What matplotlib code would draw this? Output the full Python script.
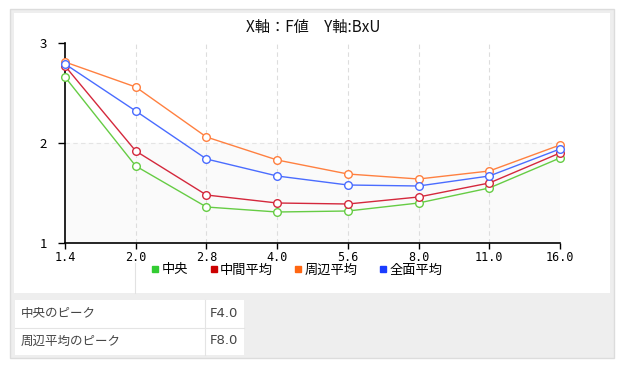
import numpy as np
import matplotlib
matplotlib.use("Agg")
import matplotlib.pyplot as plt
from matplotlib.patches import Rectangle
from matplotlib.lines import Line2D

plt.rcParams["font.family"] = ["Noto Sans CJK JP", "DejaVu Sans"]

# --- data ---
f_values = ["1.4", "2.0", "2.8", "4.0", "5.6", "8.0", "11.0", "16.0"]
center = [2.66, 1.77, 1.36, 1.31, 1.32, 1.40, 1.55, 1.85]
middle_avg = [2.77, 1.92, 1.48, 1.40, 1.39, 1.46, 1.60, 1.90]
edge_avg = [2.81, 2.56, 2.06, 1.83, 1.69, 1.64, 1.72, 1.98]
total_avg = [2.79, 2.32, 1.84, 1.67, 1.58, 1.57, 1.67, 1.94]

series_names = ["中央", "中間平均", "周辺平均", "全面平均"]
line_colors = ["#66cc44", "#d4283c", "#ff8040", "#4a6cff"]
legend_colors = ["#33cc33", "#cc0000", "#ff6611", "#1a3cff"]

peak_labels = ["中央のピーク", "周辺平均のピーク"]
peak_values = ["F4.0", "F8.0"]

W, H = 627, 372
fig = plt.figure(figsize=(W / 100, H / 100), dpi=100)
fig.patch.set_facecolor("white")


def px_rect(x0, y0, x1, y1, **kw):
    # rectangle in pixel coordinates (top-left origin)
    r = Rectangle((x0 / W, 1 - y1 / H), (x1 - x0) / W, (y1 - y0) / H,
                  transform=fig.transFigure, **kw)
    fig.patches.append(r)
    return r


# frame + panels
px_rect(10, 9, 614, 358, facecolor="#eeeeee", edgecolor="#dcdcdc", linewidth=1, zorder=0)
px_rect(14, 13, 610, 293, facecolor="white", edgecolor="none", zorder=0)
fig.lines.append(Line2D([135 / W, 135 / W], [1 - 263 / H, 1 - 293 / H],
                        transform=fig.transFigure, color="#e2e2e2", linewidth=0.8))

# table
px_rect(15, 300, 244, 355, facecolor="white", edgecolor="none", zorder=1)
fig.lines.append(Line2D([15 / W, 244 / W], [1 - 327.5 / H] * 2,
                        transform=fig.transFigure, color="#e4e4e4", linewidth=0.8))
fig.lines.append(Line2D([204.5 / W] * 2, [1 - 300 / H, 1 - 355 / H],
                        transform=fig.transFigure, color="#e4e4e4", linewidth=0.8))
for i, (lab, val) in enumerate(zip(peak_labels, peak_values)):
    yc = 313.5 + i * 27.5
    fig.text(21 / W, 1 - yc / H, lab, fontsize=9, color="#444444", va="center", ha="left")
    fig.text(210 / W, 1 - yc / H, val, fontsize=9.5, color="#444444", va="center",
             ha="left", family="DejaVu Sans")

# --- plot ---
ax = fig.add_axes([65 / W, 1 - 243 / H, (560 - 65) / W, (243 - 43) / H])
ax.set_zorder(5)
ax.set_facecolor("none")
x = np.arange(len(f_values))
ax.set_xlim(0, len(f_values) - 1)
ax.set_ylim(1, 3)

ax.axhspan(1, 2, color="#fafafa", zorder=0)
for xi in x[1:-1]:
    ax.axvline(xi, color="#dddddd", linestyle=(0, (4, 3)), linewidth=0.8, zorder=1)
ax.axhline(2, color="#e4e4e4", linestyle=(0, (4, 3)), linewidth=0.8, zorder=1)

for vals, c in zip([center, middle_avg, edge_avg, total_avg], line_colors):
    ax.plot(x, vals, color=c, linewidth=1.0, marker="o", markersize=5.5,
            markerfacecolor="white", markeredgecolor=c, markeredgewidth=1.0,
            zorder=3, clip_on=False)

for s in ["top", "right"]:
    ax.spines[s].set_visible(False)
for s in ["left", "bottom"]:
    ax.spines[s].set_linewidth(1.2)
    ax.spines[s].set_color("black")

ax.set_yticks([1, 2, 3])
ax.set_yticklabels(["1", "2", "3"], fontsize=9.5)
ax.set_xticks(x)
ax.set_xticklabels(f_values, fontsize=8.5, family="DejaVu Sans Mono")
ax.tick_params(axis="y", direction="out", length=5, width=1, pad=8)
ax.tick_params(axis="x", direction="out", length=4, width=1, pad=2)

fig.text(313 / W, 1 - 27 / H, "X軸：F値　Y軸:BxU", fontsize=11,
         ha="center", va="center", color="#111111")

handles = [Line2D([], [], linestyle="none", marker="s", markersize=5,
                  markerfacecolor=c, markeredgecolor=c) for c in legend_colors]
leg = fig.legend(handles, series_names, loc="center", ncol=4,
                 bbox_to_anchor=(297 / W, 1 - 270 / H), frameon=False, fontsize=9.5,
                 handlelength=0.6, handletextpad=0.2, columnspacing=1.6)
leg.set_zorder(6)

fig.savefig("out.png", dpi=100)
